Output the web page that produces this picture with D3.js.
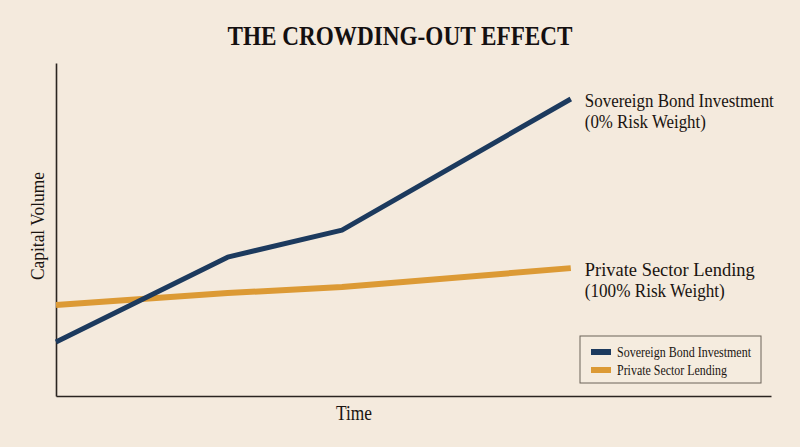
<!DOCTYPE html>
<html>
<head>
<meta charset="utf-8">
<script src="https://cdn.jsdelivr.net/npm/d3@7"></script>
<style>
  html, body { margin: 0; padding: 0; background: #f4eadd; }
  svg { display: block; }
</style>
</head>
<body>
<div id="chart"></div>
<script>
// data (arbitrary units, no ticks shown)
var timePoints = [0, 3, 5, 9];
var sovereign = [16.2, 41.7, 49.8, 89.2];
var privateLending = [27.3, 30.9, 32.7, 38.4];
var seriesNames = ["Sovereign Bond Investment", "Private Sector Lending"];
var riskNotes = ["(0% Risk Weight)", "(100% Risk Weight)"];
var colors = ["#1c3a5e", "#dc9a35"];

var W = 800, H = 447;
var margin = {top: 63, right: 29, bottom: 51, left: 56},
    width = W - margin.left - margin.right,
    height = H - margin.top - margin.bottom;

var svg = d3.select("#chart").append("svg")
  .attr("width", W)
  .attr("height", H)
  .style("font-family", "'Liberation Serif', serif");

svg.append("rect").attr("width", W).attr("height", H).attr("fill", "#f4eadd");

// title
svg.append("text")
  .attr("x", 400)
  .attr("y", 45)
  .attr("text-anchor", "middle")
  .attr("font-size", 28)
  .attr("font-weight", "bold")
  .attr("fill", "#141010")
  .attr("textLength", 345)
  .attr("lengthAdjust", "spacingAndGlyphs")
  .text("THE CROWDING-OUT EFFECT");

var g = svg.append("g")
  .attr("transform", "translate(" + margin.left + "," + margin.top + ")");

var x = d3.scaleLinear().domain([0, 12.5]).range([0, width]);
var y = d3.scaleLinear().domain([0, 100]).range([height, 0]);

// axes without ticks
var xAxis = g.append("g").attr("transform", "translate(0," + height + ")")
  .call(d3.axisBottom(x).tickValues([]).tickSizeOuter(0));
var yAxis = g.append("g")
  .call(d3.axisLeft(y).tickValues([]).tickSizeOuter(0));
[xAxis, yAxis].forEach(function(a) {
  a.select(".domain").attr("stroke", "#2a2420").attr("stroke-width", 1.6);
});

// lines
var line = d3.line()
  .x(function(d, i) { return x(timePoints[i]); })
  .y(function(d) { return y(d); });

var seriesData = [sovereign, privateLending];
var widths = [5, 6];

// orange first so blue sits on top at the crossing
[1, 0].forEach(function(k) {
  g.append("path")
    .datum(seriesData[k])
    .attr("fill", "none")
    .attr("stroke", colors[k])
    .attr("stroke-width", widths[k])
    .attr("stroke-linejoin", "round")
    .attr("d", line);
});

// end labels
seriesData.forEach(function(s, k) {
  var last = s.length - 1;
  var lx = x(timePoints[last]) + 14;
  var ly = y(s[last]);
  g.append("text")
    .attr("x", lx)
    .attr("y", ly + 8)
    .attr("font-size", 19)
    .attr("fill", "#1a1410")
    .attr("textLength", k === 0 ? 189 : 170)
    .attr("lengthAdjust", "spacingAndGlyphs")
    .text(seriesNames[k]);
  g.append("text")
    .attr("x", lx)
    .attr("y", ly + 29)
    .attr("font-size", 19)
    .attr("fill", "#1a1410")
    .attr("textLength", k === 0 ? 121 : 140)
    .attr("lengthAdjust", "spacingAndGlyphs")
    .text(riskNotes[k]);
});

// axis titles
svg.append("text")
  .attr("x", margin.left + 298)
  .attr("y", 420)
  .attr("text-anchor", "middle")
  .attr("font-size", 20)
  .attr("fill", "#1a1410")
  .attr("textLength", 36)
  .attr("lengthAdjust", "spacingAndGlyphs")
  .text("Time");

svg.append("text")
  .attr("transform", "translate(44,226) rotate(-90)")
  .attr("text-anchor", "middle")
  .attr("font-size", 18)
  .attr("fill", "#1a1410")
  .attr("textLength", 108)
  .attr("lengthAdjust", "spacingAndGlyphs")
  .text("Capital Volume");

// legend
var legend = svg.append("g").attr("transform", "translate(580,336)");
legend.append("rect")
  .attr("width", 181)
  .attr("height", 47)
  .attr("fill", "#f5ecdf")
  .attr("stroke", "#6b6258")
  .attr("stroke-width", 1);

seriesNames.forEach(function(name, k) {
  var row = legend.append("g").attr("transform", "translate(0," + (16 + k * 18) + ")");
  row.append("rect")
    .attr("x", 11)
    .attr("y", -3)
    .attr("width", 20)
    .attr("height", 6)
    .attr("fill", colors[k]);
  row.append("text")
    .attr("x", 37)
    .attr("y", 5)
    .attr("font-size", 15)
    .attr("fill", "#1a1410")
    .attr("textLength", k === 0 ? 134 : 110)
    .attr("lengthAdjust", "spacingAndGlyphs")
    .text(name);
});
</script>
</body>
</html>
